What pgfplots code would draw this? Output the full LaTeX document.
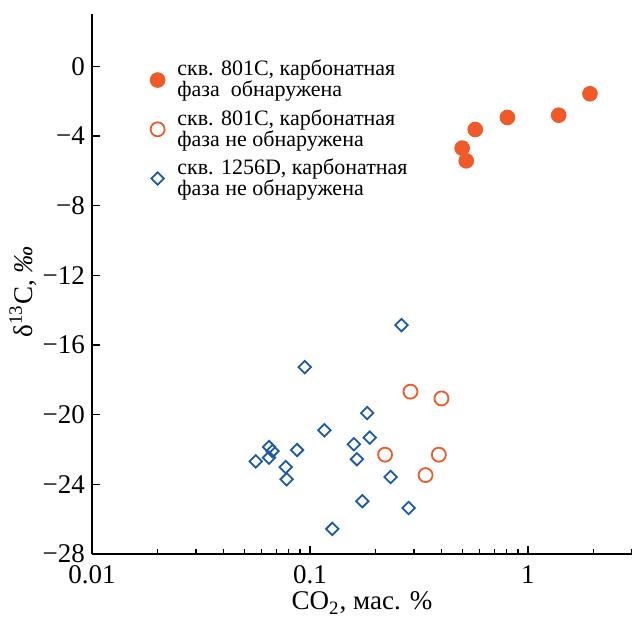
\documentclass[border=0pt]{standalone}
\usepackage{fontspec}
\setmainfont{Liberation Serif}
\usepackage{pgfplots}
\pgfplotsset{compat=1.18}
\definecolor{dotorange}{RGB}{240,90,40}
\definecolor{dotblue}{RGB}{25,90,170}

\begin{document}
\begin{tikzpicture}
\begin{axis}[
  name=ax,
  scale only axis, width=270pt, height=270pt,
  xmode=log, xmin=0.01, xmax=3, ymin=-28, ymax=3,
  axis lines*=left, axis line style={line width=0.7pt},
  tick align=inside, major tick length=4pt, minor tick length=2.6pt,
  tick style={black, line width=0.6pt},
  xtick={0.01,0.1,1}, xticklabels={\mbox{0.01},\mbox{0.1},\mbox{1}},
  minor xtick={0.02,0.03,0.04,0.05,0.06,0.07,0.08,0.09,0.2,0.3,0.4,0.5,0.6,0.7,0.8,0.9,2,3},
  ytick={-28,-24,-20,-16,-12,-8,-4,0},
  yticklabels={\mbox{−28},\mbox{−24},\mbox{−20},\mbox{−16},\mbox{−12},\mbox{−8},\mbox{−4},\mbox{0}},
  tick label style={font=\fontsize{13.5}{13.5}\selectfont},
  xticklabel style={anchor=base, yshift=-14.7pt},
  xlabel={CO\textsubscript{2}, мас. \%},
  ylabel={δ\textsuperscript{13}C, \textit{‰}},
  label style={font=\fontsize{13.5}{13.5}\selectfont},
  xlabel style={at={(rel axis cs:0.5,0)}, anchor=base, yshift=-28pt},
  ylabel style={at={(rel axis cs:0,0.5)}, anchor=center, yshift=34.5pt, xshift=-4pt},
  legend style={draw=none, fill=none, at={(rel axis cs:0.096,0.93)}, anchor=north west,
    font=\fontsize{11}{10.5}\selectfont, cells={align=left}, row sep=0.75pt},
  legend cell align=left,
  legend image code/.code={\draw[mark repeat=2,mark phase=2,#1]
    plot coordinates {(-0.1cm,0cm)(0cm,0cm)(0.1cm,0cm)};
    \path (0.27cm,0cm);},
]
\addplot[only marks, mark=*, mark size=3.7pt, color=dotorange, fill=dotorange]
  coordinates {(0.499,-4.70)(0.521,-5.43)(0.573,-3.63)(0.805,-2.94)(1.383,-2.81)(1.925,-1.58)};
\addlegendentry{скв. 801C, карбонатная\\фаза \ обнаружена}
\addplot[only marks, mark=o, mark size=3.5pt, color=dotorange, mark options={line width=0.9pt}]
  coordinates {(0.221,-22.30)(0.289,-18.68)(0.339,-23.47)(0.390,-22.30)(0.401,-19.07)};
\addlegendentry{скв. 801C, карбонатная\\фаза не обнаружена}
\addplot[only marks, mark=square, mark size=2.2pt, color=dotblue, mark options={rotate=45, line width=0.9pt}]
  coordinates {(0.0564,-22.68)(0.0649,-21.86)(0.0649,-22.47)(0.0673,-22.09)(0.0774,-23.01)
    (0.0782,-23.71)(0.0872,-22.03)(0.0946,-17.27)(0.1164,-20.90)(0.1266,-26.56)
    (0.159,-21.70)(0.1642,-22.56)(0.1738,-24.97)(0.183,-19.91)(0.188,-21.32)
    (0.2343,-23.58)(0.263,-14.86)(0.2833,-25.36)};
\addlegendentry{скв. 1256D, карбонатная\\фаза не обнаружена}
\end{axis}
\pgfresetboundingbox
\path ([xshift=-46pt,yshift=-32.15pt]ax.south west) rectangle ([yshift=7pt]ax.north east);
\end{tikzpicture}
\end{document}
